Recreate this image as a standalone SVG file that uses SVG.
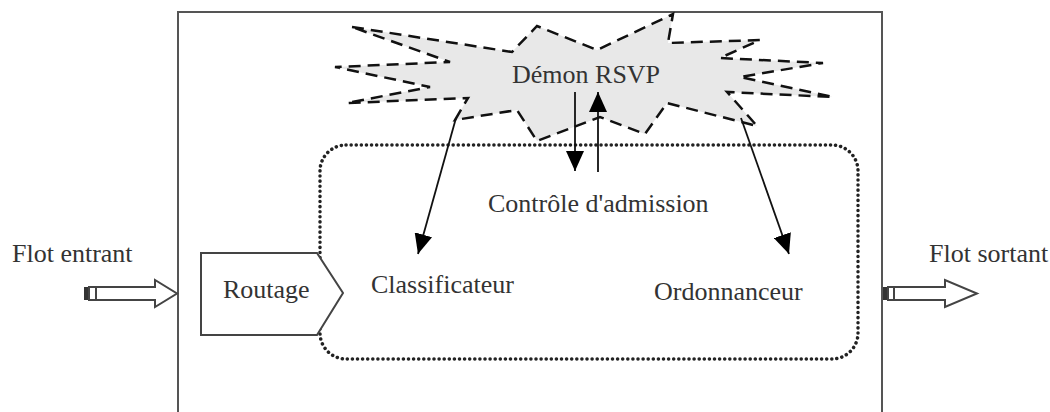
<svg xmlns="http://www.w3.org/2000/svg" width="1050" height="412" viewBox="0 0 1050 412">
<defs>
<style>
text{font-family:"Liberation Serif","Times New Roman",serif;font-size:26px;fill:#333}
.line{stroke:#111;stroke-width:1.8;fill:none}
.blk{fill:#fff;stroke:#444;stroke-width:2}
</style>
<marker id="ah" markerWidth="22" markerHeight="18" refX="20" refY="9" orient="auto" markerUnits="userSpaceOnUse">
<path d="M0,0 L20,9 L0,18 Z" fill="#000"/>
</marker>
</defs>
<rect width="1050" height="412" fill="#fff"/>
<g id="routeur">
<path d="M178,420 L178,12 L882,12 L882,420" fill="none" stroke="#555" stroke-width="2"/>
</g>
<g id="cadre-pointille">
<rect x="320" y="145" width="538" height="214" rx="26" ry="26" fill="none" stroke="#222" stroke-width="3.5" stroke-dasharray="0.1 5" stroke-linecap="round"/>
</g>
<g id="demon">
<polygon points="352,27 512,52 537,26 597,50 673,14 668,43 760,40 720,58 823,63 740,77 833,97 727,92 757,126 667,103 645,134 600,117 537,141 517,110 455,120 468,98 347,103 430,87 335,67 450,62" fill="#e8e8e8" stroke="#111" stroke-width="2.5" stroke-dasharray="12 7"/>
<text x="512" y="83">Démon RSVP</text>
</g>
<g id="routage">
<polygon points="201,253 317,253 343,293 317,335 201,335" class="blk"/>
<text x="223" y="298">Routage</text>
</g>
<g id="admission"><text x="488" y="212">Contrôle d'admission</text></g>
<g id="classificateur"><text x="371" y="293">Classificateur</text></g>
<g id="ordonnanceur"><text x="654" y="300">Ordonnanceur</text></g>
<g id="entrant">
<text x="12" y="262">Flot entrant</text>
<polygon points="96,287 155,287 155,280 177,293.5 155,307 155,300 96,300" class="blk"/>
<rect x="84" y="287" width="4" height="13" fill="#333"/>
<rect x="89" y="287" width="7" height="13" fill="#fff" stroke="#444" stroke-width="2"/>
</g>
<g id="sortant">
<text x="929" y="262">Flot sortant</text>
<polygon points="894,287 945,287 945,280 977,293.5 945,307 945,300 894,300" class="blk"/>
<rect x="883" y="287" width="4" height="13" fill="#333"/>
<rect x="888" y="287" width="6" height="13" fill="#fff" stroke="#444" stroke-width="2"/>
</g>
<g id="connecteurs">
<line x1="456" y1="118" x2="418" y2="254" class="line" marker-end="url(#ah)"/>
<line x1="575" y1="92" x2="575" y2="171" class="line" marker-end="url(#ah)"/>
<line x1="598" y1="172" x2="598" y2="92" class="line" marker-end="url(#ah)"/>
<line x1="741" y1="118" x2="789" y2="254" class="line" marker-end="url(#ah)"/>
</g>
</svg>
